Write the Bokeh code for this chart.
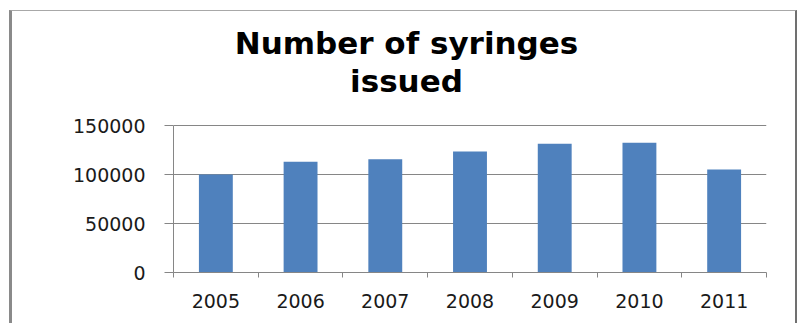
from bokeh.plotting import figure
from bokeh.models import Range1d, FixedTicker, Label
from bokeh.embed import file_html
from bokeh.resources import INLINE

# ---- data ----
years = ["2005", "2006", "2007", "2008", "2009", "2010", "2011"]
syringes = [100000, 113000, 115500, 123500, 131500, 132500, 105000]
y_ticks = [0, 50000, 100000, 150000]
y_tick_labels = ["0", "50000", "100000", "150000"]
title_lines = ["Number of syringes", "issued"]

idx = list(range(len(years)))
boundaries = [i - 0.5 for i in range(len(years) + 1)]

GRID = "#868686"
BAR = "#4F81BD"
FONT = "DejaVu Sans"
W, H = 788, 313
B_LEFT, B_RIGHT, B_BOTTOM = 161, 34, 52
PLOT_TOP = 114          # px from canvas top to the 150000 gridline
frame_h = H - B_BOTTOM  # frame spans the whole height above the x axis
plot_h = frame_h - PLOT_TOP
y_top = y_ticks[-1] * frame_h / plot_h

p = figure(width=W, height=H, output_backend="svg", toolbar_location=None,
           title_location=None,
           x_range=Range1d(-0.5, len(years) - 0.5),
           y_range=Range1d(y_ticks[0], y_top),
           min_border_left=B_LEFT, min_border_right=B_RIGHT,
           min_border_top=0, min_border_bottom=B_BOTTOM)

p.styles = {"margin-left": "9px", "margin-top": "10px",
            "border-left": "3px solid #8a8a8a",
            "border-top": "1px solid #a8a8a8",
            "border-right": "2px solid #707070"}

p.vbar(x=idx, top=syringes, width=0.4, fill_color=BAR, line_color=None)

# x axis: labels at centres, tick marks at category boundaries
xa = p.xaxis[0]
xa.ticker = FixedTicker(ticks=idx, minor_ticks=boundaries)
xa.major_label_overrides = {i: y for i, y in zip(idx, years)}
xa.major_tick_out = 0
xa.major_tick_in = 0
xa.major_tick_line_color = None
xa.minor_tick_out = 5
xa.minor_tick_in = 0
xa.minor_tick_line_color = GRID
xa.axis_line_color = GRID
xa.major_label_text_font = FONT
xa.major_label_text_font_size = "19px"
xa.major_label_text_color = "#1a1a1a"
xa.major_label_standoff = 16

ya = p.yaxis[0]
ya.bounds = (y_ticks[0], y_ticks[-1])
ya.ticker = FixedTicker(ticks=y_ticks)
ya.major_label_overrides = {t: s for t, s in zip(y_ticks, y_tick_labels)}
ya.major_tick_out = 9
ya.major_tick_in = 0
ya.major_tick_line_color = GRID
ya.minor_tick_line_color = None
ya.axis_line_color = GRID
ya.major_label_text_font = FONT
ya.major_label_text_font_size = "19px"
ya.major_label_text_color = "#1a1a1a"
ya.major_label_standoff = 19

p.xgrid.visible = False
p.ygrid.ticker = FixedTicker(ticks=y_ticks)
p.ygrid.grid_line_color = GRID
p.outline_line_color = None

# two-line chart title, centred on the whole chart box
# (screen units are measured from the frame's bottom-left corner)
cx = W / 2 - B_LEFT
for line, base_from_top in zip(title_lines, [31, 69]):
    p.add_layout(Label(x=cx, y=frame_h - base_from_top,
                       x_units="screen", y_units="screen",
                       text=line, text_align="center", text_baseline="alphabetic",
                       text_font=FONT, text_font_size="31px",
                       text_font_style="bold", text_color="black"))

open("out.html", "w").write(file_html(p, INLINE))
